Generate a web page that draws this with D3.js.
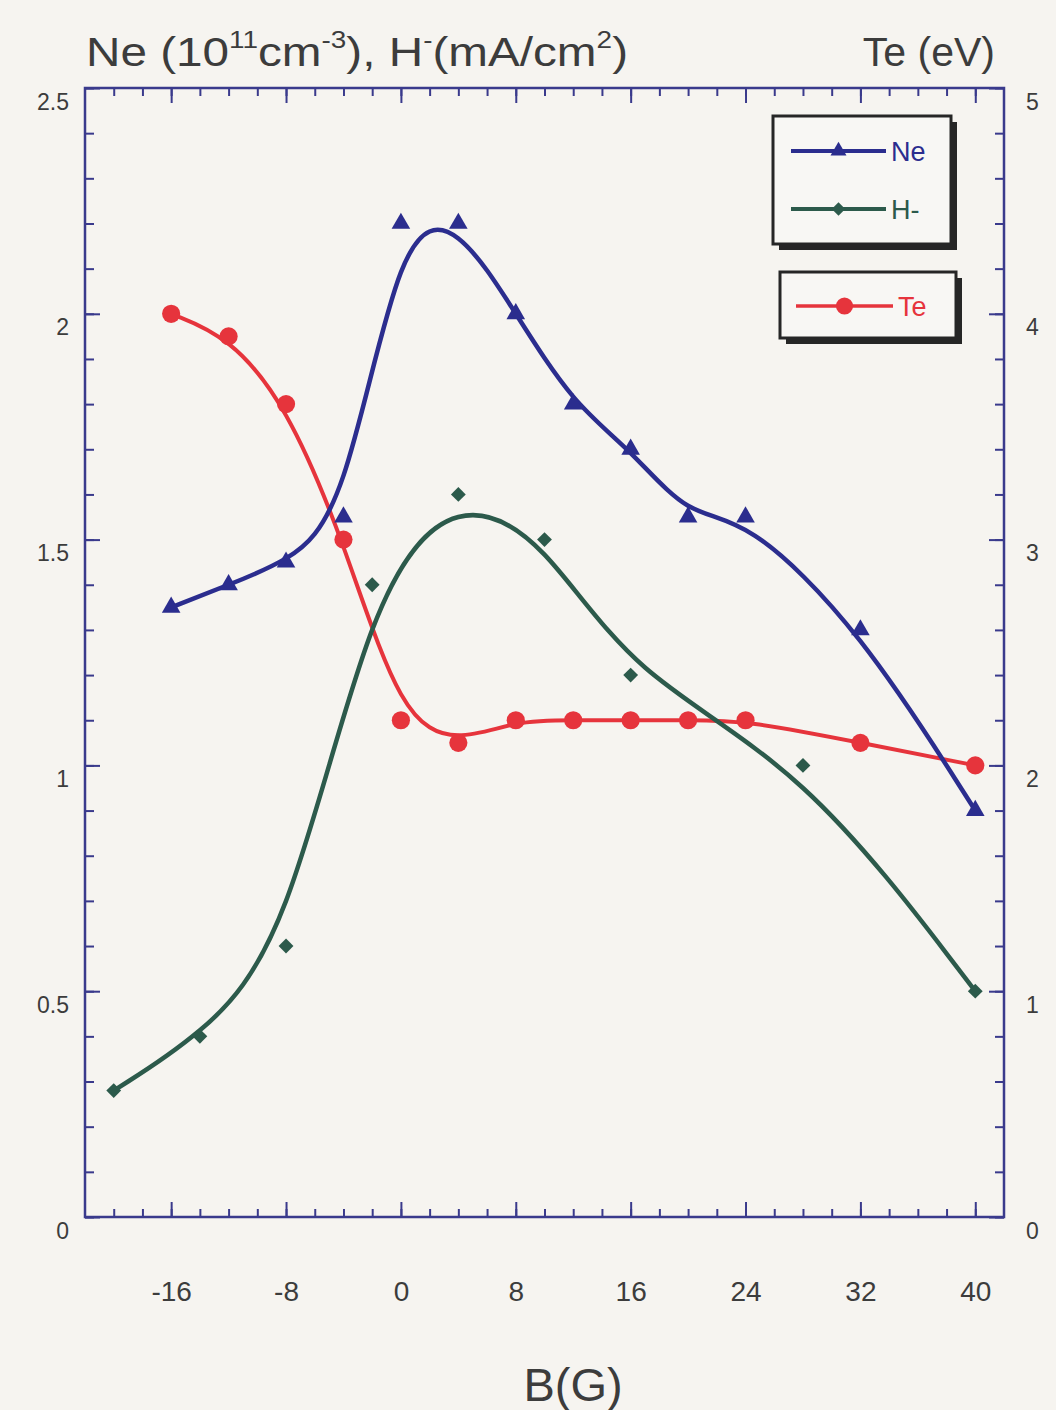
<!DOCTYPE html>
<html>
<head>
<meta charset="utf-8">
<script src="https://cdn.jsdelivr.net/npm/d3@7"></script>
<style>
  html, body { margin: 0; padding: 0; background: #f6f4f0; }
  svg { display: block; font-family: "Liberation Sans", Arial, Helvetica, sans-serif; }
</style>
</head>
<body>
<svg id="chart" width="1056" height="1410"></svg>
<script>
// Magnetic field B (G) at each measurement, and the measured quantities
const neB   = [-16, -12, -8, -4, 0, 4, 8, 12, 16, 20, 24, 32, 40];
const neVal = [1.35, 1.40, 1.45, 1.55, 2.20, 2.20, 2.00, 1.80, 1.70, 1.55, 1.55, 1.30, 0.90];

const hB    = [-20, -14, -8, -2, 4, 10, 16, 28, 40];
const hVal  = [0.28, 0.40, 0.60, 1.40, 1.60, 1.50, 1.20, 1.00, 0.50];

const teB   = [-16, -12, -8, -4, 0, 4, 8, 12, 16, 20, 24, 32, 40];
const teVal = [4.0, 3.9, 3.6, 3.0, 2.2, 2.1, 2.2, 2.2, 2.2, 2.2, 2.2, 2.1, 2.0];

const xTicks      = [-16, -8, 0, 8, 16, 24, 32, 40];
const xMinorTicks = d3.range(-20, 42, 2);
const yLeftTicks  = [0, 0.5, 1, 1.5, 2, 2.5];
const yLeftMinor  = d3.range(0, 2.51, 0.1);
const yRightTicks = [0, 1, 2, 3, 4, 5];
const yRightMinor = d3.range(0, 5.01, 0.2);

const colors = { ne: "#2b2d8e", h: "#2c5a4b", te: "#e6343c", frame: "#3a3a8c", text: "#3c3c3c" };

const svg = d3.select("#chart");
const L = 85, R = 1004, T = 88, B = 1217;

const x  = d3.scaleLinear().domain([-22, 42]).range([L, R]);
const yL = d3.scaleLinear().domain([0, 2.5]).range([B, T]);
const yR = d3.scaleLinear().domain([0, 5]).range([B, T]);

// plot frame
svg.append("rect")
  .attr("x", L).attr("y", T).attr("width", R - L).attr("height", B - T)
  .attr("fill", "none").attr("stroke", colors.frame).attr("stroke-width", 2.5);

function styleAxis(g) {
  g.select(".domain").remove();
  g.selectAll(".tick line").attr("stroke", colors.frame).attr("stroke-width", 2);
  g.selectAll(".tick text").attr("fill", colors.text)
    .attr("font-family", "Liberation Sans, Arial, sans-serif");
}

const plain = d => String(d);

// minor ticks (inward)
svg.append("g").attr("transform", `translate(0,${B})`)
  .call(d3.axisBottom(x).tickValues(xMinorTicks).tickSize(-8).tickFormat(""))
  .call(styleAxis);
svg.append("g").attr("transform", `translate(0,${T})`)
  .call(d3.axisTop(x).tickValues(xMinorTicks).tickSize(-8).tickFormat(""))
  .call(styleAxis);
svg.append("g").attr("transform", `translate(${L},0)`)
  .call(d3.axisLeft(yL).tickValues(yLeftMinor).tickSize(-9).tickFormat(""))
  .call(styleAxis);
svg.append("g").attr("transform", `translate(${R},0)`)
  .call(d3.axisRight(yR).tickValues(yRightMinor).tickSize(-9).tickFormat(""))
  .call(styleAxis);

// major ticks with labels
svg.append("g").attr("transform", `translate(0,${B})`)
  .call(d3.axisBottom(x).tickValues(xTicks).tickSize(-15).tickPadding(64).tickFormat(plain))
  .call(styleAxis)
  .call(g => g.selectAll(".tick text").attr("font-size", 28));
svg.append("g").attr("transform", `translate(0,${T})`)
  .call(d3.axisTop(x).tickValues(xTicks).tickSize(-15).tickFormat(""))
  .call(styleAxis);
svg.append("g").attr("transform", `translate(${L},0)`)
  .call(d3.axisLeft(yL).tickValues(yLeftTicks).tickSize(-15).tickPadding(16).tickFormat(plain))
  .call(styleAxis)
  .call(g => g.selectAll(".tick text").attr("font-size", 23).attr("dy", "0.92em"));
svg.append("g").attr("transform", `translate(${R},0)`)
  .call(d3.axisRight(yR).tickValues(yRightTicks).tickSize(-15).tickPadding(22).tickFormat(plain))
  .call(styleAxis)
  .call(g => g.selectAll(".tick text").attr("font-size", 23).attr("dy", "0.92em"));

// axis titles
const title = svg.append("text")
  .attr("x", 86).attr("y", 66)
  .attr("font-size", 41).attr("fill", colors.text)
  .attr("textLength", 542).attr("lengthAdjust", "spacingAndGlyphs");
title.append("tspan").text("Ne (10");
title.append("tspan").attr("font-size", 24).attr("dy", -18).text("11");
title.append("tspan").attr("dy", 18).text("cm");
title.append("tspan").attr("font-size", 24).attr("dy", -18).text("-3");
title.append("tspan").attr("dy", 18).text("), H");
title.append("tspan").attr("font-size", 24).attr("dy", -18).text("-");
title.append("tspan").attr("dy", 18).text("(mA/cm");
title.append("tspan").attr("font-size", 24).attr("dy", -18).text("2");
title.append("tspan").attr("dy", 18).text(")");

svg.append("text")
  .attr("x", 995).attr("y", 66).attr("text-anchor", "end")
  .attr("font-size", 41).attr("fill", colors.text).text("Te (eV)");

svg.append("text")
  .attr("x", 573).attr("y", 1401).attr("text-anchor", "middle")
  .attr("font-size", 47).attr("fill", colors.text).text("B(G)");

// smoothed curves through the data
const plot = svg.append("g");

function series(bs, vals, yScale, color, width, symbolType, symbolSize, rotate) {
  const pts = bs.map((b, i) => [b, vals[i]]);
  plot.append("path")
    .datum(pts)
    .attr("fill", "none").attr("stroke", color).attr("stroke-width", width)
    .attr("stroke-linejoin", "round").attr("stroke-linecap", "round")
    .attr("d", d3.line().x(d => x(d[0])).y(d => yScale(d[1])).curve(d3.curveBasis));
  plot.append("g").selectAll("path")
    .data(pts).join("path")
    .attr("transform", d => `translate(${x(d[0])},${yScale(d[1])}) rotate(${rotate || 0})`)
    .attr("d", d3.symbol().type(symbolType).size(symbolSize))
    .attr("fill", color);
}

series(teB, teVal, yR, colors.te, 4, d3.symbolCircle, 260);
series(hB, hVal, yL, colors.h, 4.5, d3.symbolSquare, 110, 45);
series(neB, neVal, yL, colors.ne, 4.5, d3.symbolTriangle, 150);

// legends
function legendBox(x0, y0, w, h, items) {
  const g = svg.append("g");
  g.append("rect").attr("x", x0 + 6).attr("y", y0 + 6).attr("width", w).attr("height", h)
    .attr("fill", "#262626");
  g.append("rect").attr("x", x0).attr("y", y0).attr("width", w).attr("height", h)
    .attr("fill", "#f8f7f4").attr("stroke", "#262626").attr("stroke-width", 3);
  items.forEach(it => {
    g.append("line").attr("x1", it.x1).attr("x2", it.x2).attr("y1", it.y).attr("y2", it.y)
      .attr("stroke", it.color).attr("stroke-width", it.w);
    g.append("path")
      .attr("transform", `translate(${(it.x1 + it.x2) / 2},${it.y}) rotate(${it.rot || 0})`)
      .attr("d", d3.symbol().type(it.sym).size(it.size))
      .attr("fill", it.color);
    g.append("text").attr("x", it.x2 + 5).attr("y", it.y + 10)
      .attr("font-size", 27).attr("fill", it.color).text(it.label);
  });
}

legendBox(773, 116, 178, 128, [
  { label: "Ne", color: colors.ne, y: 151, x1: 791, x2: 886, w: 4, sym: d3.symbolTriangle, size: 110 },
  { label: "H-", color: colors.h, y: 209, x1: 791, x2: 886, w: 4, sym: d3.symbolSquare, size: 90, rot: 45 }
]);
legendBox(780, 272, 176, 66, [
  { label: "Te", color: colors.te, y: 306, x1: 796, x2: 893, w: 3.5, sym: d3.symbolCircle, size: 230 }
]);
</script>
</body>
</html>
